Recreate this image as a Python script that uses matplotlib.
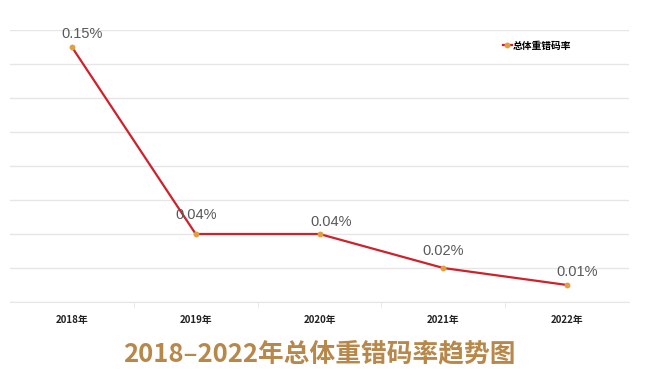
import matplotlib
matplotlib.use("Agg")
import matplotlib.pyplot as plt
from matplotlib.ticker import MultipleLocator

years = ["2018年", "2019年", "2020年", "2021年", "2022年"]
rates = [0.15, 0.04, 0.04, 0.02, 0.01]
labels = ["0.15%", "0.04%", "0.04%", "0.02%", "0.01%"]
series_name = "总体重错码率"
title = "2018–2022年总体重错码率趋势图"

cjk = ["Noto Sans CJK SC", "DejaVu Sans"]
plt.rcParams['font.family'] = cjk

fig = plt.figure(figsize=(6.57, 3.75), dpi=100)
ax = fig.add_axes([10/657, 1-302/375, 619/657, 272/375])

x = list(range(len(years)))
ax.plot(x, rates, color="#d0202a", lw=1.6, marker="o", ms=3.2,
        mfc="#e0a040", mec="#e0a040", label=series_name, zorder=3)

offs = [(10, 12), (0, 18), (11, 12), (0, 16), (10, 12)]
for xi, yi, t, (dx, dy) in zip(x, rates, labels, offs):
    ax.annotate(t, (xi, yi), xytext=(dx*0.75, dy*0.75), textcoords="offset points",
                ha="center", va="center", fontsize=10.5, color="#595959",
                family="Liberation Sans")

ax.set_xlim(-0.5, len(years)-0.5)
ax.set_ylim(0, 0.16)
ax.yaxis.set_major_locator(MultipleLocator(0.02))
ax.grid(axis="y", color="#e6e6e6", lw=1)
ax.set_axisbelow(True)
ax.tick_params(axis="y", length=0, labelleft=False)
ax.set_xticks(x)
ax.set_xticklabels(years, fontsize=7, fontweight="bold", color="#222222")
ax.set_xticks([i+0.5 for i in x[:-1]], minor=True)
ax.tick_params(axis="x", which="major", length=0, pad=9)
ax.tick_params(axis="x", which="minor", length=4, color="#e6e6e6")
for s in ["top", "right", "left"]:
    ax.spines[s].set_visible(False)
ax.spines["bottom"].set_color("#e6e6e6")

leg = ax.legend(loc="upper left", bbox_to_anchor=(489/619, 1-7/272), frameon=False,
                fontsize=7, handlelength=0.9, handletextpad=0.1, borderaxespad=0)
for t in leg.get_texts():
    t.set_fontweight("bold")

fig.text(319/657, 1-354/375, title, ha="center", va="center", fontsize=18.5,
         fontweight="bold", color="#b8884a")

fig.savefig("out.png", dpi=100)
